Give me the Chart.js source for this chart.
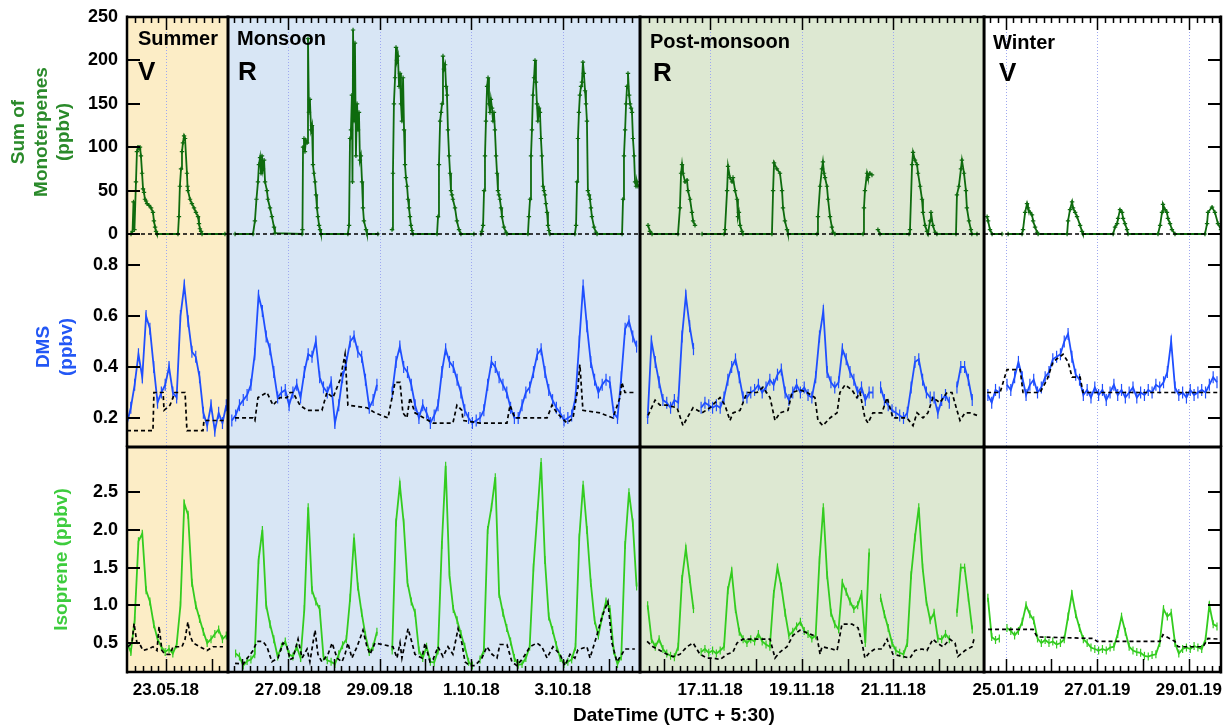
<!DOCTYPE html>
<html><head><meta charset="utf-8">
<script src="https://cdn.jsdelivr.net/npm/chart.js@4.4.1/dist/chart.umd.min.js"></script>
<style>
html,body{margin:0;padding:0;background:#fff;}
#wrap{position:relative;width:1223px;height:727px;overflow:hidden;}
#wrap canvas{position:absolute;left:0;top:0;}
</style></head><body>
<div id="wrap">
<canvas id="cMono" width="1223" height="727"></canvas>
<canvas id="cDms" width="1223" height="727"></canvas>
<canvas id="cIso" width="1223" height="727"></canvas>
</div>
<script>
// ---------- categories / axis data ----------
const SEASONS = ['Summer','Monsoon','Post-monsoon','Winter'];
const SEASON_MARKS = ['V','R','R','V'];
const SEASON_HOURS = [52.9, 215.8, 180.2, 124.1];          // length of each campaign window (h)
const SEASON_COLORS = ['#fcedc6','#d8e6f5','#dde8d2','#ffffff'];
const DATE_LABELS = ['23.05.18','27.09.18','29.09.18','1.10.18','3.10.18','17.11.18','19.11.18','21.11.18','25.01.19','27.01.19','29.01.19'];
const DATE_SEASON = [0,1,1,1,1,2,2,2,3,3,3];
const DATE_HOURS  = [20.4,31.4,79.4,127.4,175.4,36.7,84.7,132.7,11.3,59.3,107.3]; // hours since window start
const MONO_TICKS = [0,50,100,150,200,250];
const DMS_TICKS  = [0.2,0.4,0.6,0.8];
const ISO_TICKS  = [0.5,1.0,1.5,2.0,2.5];
const STEP_H = 2;   // sampling step of the regularly sampled series (h)

// ---------- Sum of monoterpenes (ppbv): [hour, value] ----------
const monoSummer = [[0,0],[2.1,0],[2.9,3],[3.4,37],[3.9,5],[4.7,60],[5.2,95],[5.8,100],[6.3,98],[6.8,100],[7.3,90],[7.9,70],[8.4,52],[8.9,48],[9.4,40],[10,38],[10.5,35],[11.5,33],[12.6,30],[13.6,25],[14.1,15],[14.7,8],[15.2,3],[15.7,0],[26.7,0],[27.2,20],[27.7,55],[28.3,75],[28.8,95],[29.3,105],[29.9,113],[30.4,110],[31.4,70],[31.7,55],[31.9,50],[33,40],[34,35],[35.1,30],[36.1,25],[37.2,20],[37.7,12],[38.2,6],[38.8,3],[39.3,0],[51.3,0]];
const monoMonsoon = [[3.7,0],[13.1,0],[14.1,15],[14.9,40],[15.7,60],[16.2,80],[16.8,88],[17.3,70],[17.8,90],[18.3,75],[18.9,85],[19.4,60],[20.4,50],[20.9,40],[22,30],[23,20],[24.1,8],[24.6,1],[38.8,0],[39,5],[39.3,100],[39.8,110],[40.3,95],[40.8,108],[41.4,105],[41.9,225],[42.4,140],[42.9,155],[43.5,120],[44,125],[44.5,80],[45,70],[45.6,60],[46.1,45],[46.6,30],[47.1,20],[47.7,10],[48.2,5],[48.7,0],[62.8,0],[63.4,10],[63.9,110],[64.4,120],[64.9,160],[65.2,60],[65.5,235],[66,130],[66.5,220],[67,90],[67.6,150],[68.1,120],[68.6,140],[69.1,85],[69.6,90],[70.2,60],[70.7,30],[71.2,15],[72.3,5],[72.8,0],[78.5,0],[80,null],[85.9,5],[86.4,70],[86.9,150],[87.5,180],[88,215],[88.5,200],[89,205],[89.6,170],[90.1,185],[90.6,150],[91.1,130],[91.7,180],[92.2,120],[92.7,80],[93.2,65],[93.8,55],[94.3,40],[94.8,30],[95.3,20],[95.8,10],[96.4,4],[96.9,0],[109.5,0],[110,20],[110.5,80],[111.1,130],[111.6,140],[112.1,150],[112.6,205],[113.1,190],[113.7,195],[114.2,170],[114.7,160],[115.2,120],[115.8,90],[116.3,70],[116.8,50],[117.3,45],[117.8,40],[118.9,30],[119.9,15],[121,5],[122,0],[128.8,0],[130,null],[132.5,0],[133,3],[133.6,10],[134.1,50],[134.6,90],[135.1,130],[135.7,170],[136.2,180],[136.7,150],[137.2,140],[137.7,155],[138.3,145],[138.8,130],[139.3,140],[139.8,120],[140.4,90],[140.9,70],[141.4,50],[141.9,45],[142.4,40],[143,30],[143.5,20],[144.5,8],[145.6,2],[146.1,0],[157.1,0],[157.6,20],[158.2,40],[158.7,90],[159.2,120],[159.7,160],[160.3,180],[160.8,200],[161.3,175],[161.8,150],[162.3,130],[162.9,145],[163.4,140],[163.9,110],[164.4,90],[165,55],[165.5,50],[166,45],[166.5,35],[167.1,25],[167.6,10],[168.1,4],[168.6,0],[181.7,0],[182.3,10],[182.8,60],[183.3,110],[183.8,140],[184.3,160],[184.9,170],[185.4,175],[185.9,198],[186.4,185],[187,165],[187.5,150],[188,130],[188.5,50],[189.1,45],[189.6,40],[190.1,30],[190.6,20],[191.7,8],[192.7,2],[193.3,0],[206.4,0],[206.9,40],[207.4,90],[208,120],[208.5,150],[209,170],[209.5,185],[210.1,160],[210.6,150],[211.1,145],[211.6,140],[212.1,110],[212.7,90],[213.2,60],[213.7,55],[214.2,60],[214.7,55]];
const monoPost = [[4.2,10],[5.2,3],[6.3,0],[19.9,0],[20.9,30],[21.5,70],[22,80],[22.5,70],[23.6,60],[24.6,62],[25.1,50],[26.2,40],[27.2,25],[27.8,15],[28.8,10],[29.3,null],[32.5,0],[44,0],[44.5,5],[45.6,50],[46.1,78],[47.1,65],[48.2,60],[48.7,65],[49.8,50],[50.8,40],[51.3,20],[51.8,25],[52.4,10],[53.4,3],[53.9,0],[69.1,0],[69.7,50],[70.2,82],[71.7,75],[73.3,70],[74.4,50],[74.9,30],[75.9,15],[77,5],[77.5,0],[92.7,0],[93.2,20],[94.3,55],[95.3,75],[95.8,83],[96.4,70],[96.9,65],[97.9,55],[98.5,40],[99.5,20],[100.5,8],[101.1,2],[102.1,0],[116.8,0],[117.3,30],[117.8,50],[118.9,70],[119.4,65],[120.4,70],[121.5,68],[122.5,null],[124.6,5],[125.7,0],[140.9,0],[141.4,5],[142.5,80],[143,94],[144,85],[145.1,80],[145.6,70],[146.7,55],[147.7,40],[148.2,25],[149.3,10],[150.3,3],[150.8,0],[151.9,15],[152.4,25],[153.4,10],[154.5,2],[155.5,0],[165.5,0],[166,45],[167,55],[168.1,75],[168.6,85],[169.7,70],[170.7,50],[171.2,30],[172.3,15],[173.3,5],[173.8,0],[176.5,0]];
const monoWinter = [[1.6,20],[2.1,15],[3.1,5],[4.2,0],[9.4,0],[9.9,null],[12.6,0],[19.9,0],[20.4,5],[21.5,25],[22.5,35],[23,30],[24.1,25],[25.1,22],[25.7,15],[26.7,8],[27.8,2],[28.3,0],[43.5,0],[44,15],[45,28],[46.1,37],[46.6,30],[47.7,25],[48.7,20],[50.3,10],[51.3,3],[51.8,0],[67.6,0],[68.6,8],[69.7,12],[70.2,18],[71.2,28],[72.3,25],[72.8,18],[73.8,12],[74.9,5],[75.4,0],[91.1,0],[92.2,10],[93.2,25],[93.7,34],[94.8,28],[95.8,25],[96.3,18],[97.4,12],[98.4,5],[100,0],[115.7,0],[116.8,12],[117.3,25],[119.4,31],[120.9,25],[122.5,12],[124.1,5]];
const monoBaseline = [0,0,0,0];

// ---------- DMS (ppbv), every STEP_H hours ----------
const dmsSummer = [0.18,0.24,0.33,0.45,0.36,0.6,0.55,0.4,0.26,0.3,0.33,0.4,0.3,0.28,0.6,0.72,0.58,0.46,0.44,0.36,0.22,0.17,0.25,0.15,0.22,0.18,0.25];
const dmsMonsoon = [null,0.19,0.21,0.25,0.27,0.29,0.33,0.45,0.68,0.62,0.52,0.47,0.38,0.28,0.3,0.31,0.25,0.3,0.33,0.28,0.38,0.45,0.44,0.5,0.36,0.32,0.3,0.34,0.18,0.25,0.36,0.42,0.5,0.52,0.46,0.44,0.35,0.24,0.27,0.33,null,null,null,0.3,0.42,0.48,0.4,0.38,0.33,0.25,0.2,0.25,0.22,0.18,0.21,0.25,0.38,0.47,0.42,0.4,0.35,0.3,0.23,0.2,0.18,0.19,0.2,0.23,0.33,0.42,0.4,0.36,0.33,0.3,0.24,0.2,0.2,0.25,0.3,0.32,0.38,0.45,0.47,0.38,0.31,0.27,0.24,0.22,0.19,0.2,0.21,0.28,0.5,0.72,0.56,0.42,0.35,0.3,0.33,0.35,0.34,0.22,0.2,0.36,0.55,0.58,0.52,0.48];
const dmsPost = [null,null,0.2,0.5,0.42,0.34,0.27,0.26,0.24,0.27,0.26,0.52,0.68,0.56,0.47,null,0.24,0.26,0.25,0.24,0.25,0.24,0.28,0.35,0.4,0.43,0.36,0.28,0.28,0.3,0.31,0.33,0.3,0.32,0.35,0.33,0.37,0.39,0.3,0.27,0.3,0.33,0.3,0.32,0.29,0.28,0.36,0.52,0.62,0.38,0.34,0.32,0.34,0.47,0.43,0.38,0.35,0.3,0.32,0.27,0.3,0.3,null,0.32,0.27,0.25,0.23,0.22,0.21,0.2,0.22,0.32,0.42,0.43,0.35,0.3,0.28,0.28,0.22,0.27,0.29,0.26,null,0.32,0.4,0.4,0.35,0.27,null,null,null];
const dmsWinter = [null,0.29,0.26,0.31,0.3,null,0.33,0.31,0.36,0.42,0.36,0.29,0.33,0.35,0.3,0.32,0.36,0.38,0.43,0.44,0.45,0.5,0.53,0.44,0.37,0.35,0.29,0.31,0.28,0.32,0.29,0.31,0.27,0.3,0.33,0.29,0.31,0.28,0.3,0.32,0.28,0.3,0.29,0.31,0.3,0.33,0.32,0.34,0.38,0.5,0.32,0.29,0.3,0.28,0.31,0.29,0.3,0.31,0.3,0.33,0.36,0.34];
// DMS background (dashed): [hour, value]
const dmsBgSummer = [[0,0.15],[13.6,0.15],[14.1,0.3],[18.9,0.3],[19.4,0.23],[22.5,0.25],[24.1,0.28],[25.1,0.3],[30.4,0.3],[31.4,0.15],[39.8,0.15],[40.3,0.19],[51.3,0.19]];
const dmsBgMonsoon = [[3.7,0.2],[13.1,0.2],[14.1,0.19],[15.7,0.28],[20.4,0.3],[23.6,0.25],[27.2,0.28],[30.9,0.28],[32.5,0.3],[34,0.3],[37.7,0.25],[41.4,0.23],[49.2,0.23],[51.8,0.3],[55,0.28],[58.7,0.35],[61.3,0.45],[62.8,0.25],[72.8,0.24],[77,0.22],[83.8,0.2],[87.5,0.34],[90.1,0.34],[91.6,0.22],[93.7,0.2],[95.3,0.28],[97.9,0.22],[107.4,0.18],[117.8,0.18],[119.9,0.25],[122.5,0.23],[123.1,0.19],[132,0.18],[146.1,0.18],[147.7,0.25],[150.3,0.2],[167.1,0.2],[169.7,0.25],[172.3,0.22],[177.5,0.18],[180.7,0.2],[183.3,0.32],[184.3,0.41],[185.9,0.23],[194.8,0.22],[201.6,0.2],[205.3,0.28],[206.3,0.34],[207.9,0.3],[213.7,0.3]];
const dmsBgPost = [[4.2,0.21],[7.9,0.27],[10.5,0.25],[14.1,0.25],[19.4,0.24],[22.5,0.17],[26.2,0.22],[27.8,0.24],[32.5,0.22],[36.7,0.24],[41.9,0.28],[44.5,0.25],[47.1,0.19],[48.7,0.22],[52.4,0.23],[56,0.3],[61.3,0.3],[64.4,0.32],[68.1,0.28],[70.7,0.19],[73.3,0.22],[77.5,0.23],[79.6,0.3],[83.8,0.31],[87.5,0.3],[91.6,0.28],[93.2,0.19],[95.8,0.17],[99.5,0.2],[103.2,0.22],[104.7,0.3],[107.4,0.33],[111,0.31],[113.6,0.28],[115.2,0.3],[117.8,0.2],[119.4,0.18],[122,0.22],[126.7,0.22],[129.4,0.28],[130.9,0.24],[132.5,0.2],[139.8,0.2],[143,0.17],[145.1,0.22],[148.2,0.2],[150.8,0.22],[153.4,0.28],[157.1,0.26],[160.8,0.3],[163.4,0.3],[166,0.23],[167.6,0.19],[170.2,0.22],[172.8,0.22],[176.5,0.21]];
const dmsBgWinter = [[1.6,0.3],[8.4,0.3],[12,0.39],[18.9,0.39],[20.4,0.3],[29.3,0.3],[33,0.35],[36.1,0.42],[41.4,0.45],[44,0.42],[46.1,0.36],[50.3,0.36],[51.8,0.3],[124.1,0.3]];

// ---------- Isoprene (ppbv), every STEP_H hours ----------
const isoSummer = [0.5,0.38,0.8,1.85,1.95,1.2,1.05,0.75,0.55,0.45,0.38,0.42,0.36,0.48,1.0,2.35,2.2,1.3,1.0,0.82,0.65,0.5,0.55,0.62,0.68,0.55,0.6];
const isoMonsoon = [null,null,0.36,0.32,0.2,0.26,0.28,0.35,1.6,2.0,1.0,0.75,0.55,0.32,0.45,0.52,0.35,0.32,0.45,0.3,0.95,2.3,1.2,1.05,0.95,0.32,0.27,0.25,0.22,0.35,0.47,0.55,1.1,1.9,1.25,0.9,0.6,0.38,0.45,0.65,null,null,null,0.4,2.1,2.6,2.1,1.3,1.05,0.9,0.4,0.3,0.45,0.25,0.24,0.4,1.8,2.85,1.4,0.95,0.8,0.62,0.45,0.25,0.2,null,0.28,0.4,2.0,2.3,2.7,1.15,0.9,0.7,0.52,0.3,0.21,0.22,0.3,0.45,1.5,2.2,2.9,1.6,0.85,0.67,0.47,0.3,0.22,0.25,0.28,0.45,1.9,2.6,2.0,1.3,0.8,0.6,0.85,1.05,0.95,0.4,0.22,0.32,1.8,2.5,2.1,1.25];
const isoPost = [null,null,1.0,0.55,0.45,0.55,0.42,0.36,0.33,0.31,0.45,1.35,1.75,1.35,0.95,null,0.38,0.42,0.37,0.4,0.36,0.4,0.45,1.2,1.45,0.95,0.65,0.55,0.5,0.55,0.52,0.62,0.52,0.48,0.45,1.15,1.5,1.25,0.9,0.6,0.65,0.72,0.78,0.66,0.62,0.56,0.6,1.6,2.3,1.4,0.9,0.75,0.68,1.3,1.18,1.05,0.95,1.0,1.15,0.5,1.7,null,null,1.1,0.88,0.7,0.5,0.4,0.37,0.35,0.5,1.4,1.9,2.3,1.5,1.05,0.8,0.9,0.56,0.55,0.62,0.55,null,0.9,1.5,1.5,1.1,0.68,null,null,null];
const isoWinter = [null,1.1,0.58,0.54,0.56,null,0.7,0.66,0.6,0.66,0.78,1.0,0.88,0.8,0.56,0.5,0.54,0.5,0.52,0.48,0.5,0.55,0.85,1.15,0.88,0.7,0.55,0.5,0.44,0.42,0.4,0.42,0.4,0.44,0.45,0.62,0.85,0.65,0.45,0.4,0.38,0.37,0.33,0.32,0.34,0.35,0.5,0.95,0.85,0.9,0.5,0.36,0.42,0.44,0.42,0.46,0.44,0.42,0.55,1.0,0.75,0.72];
// Isoprene background (dashed): [hour, value]
const isoBgSummer = [[0.5,0.45],[2.6,0.5],[3.7,0.76],[5.2,0.5],[6.8,0.48],[8.4,0.4],[11,0.42],[13.6,0.45],[15.7,0.4],[16.8,0.72],[18.3,0.4],[19.9,0.35],[22.5,0.35],[24.1,0.45],[28.8,0.45],[30.4,0.55],[31.9,0.78],[33,0.6],[34.6,0.5],[38.2,0.45],[41.9,0.4],[45,0.45],[50.3,0.45]];
const isoBgMonsoon = [[3.7,0.23],[7.9,0.22],[13.1,0.4],[15.2,0.52],[18.3,0.52],[20.4,0.45],[23,0.25],[26.2,0.3],[28.8,0.5],[30.9,0.45],[32.5,0.28],[34,0.3],[36.7,0.55],[38.8,0.3],[41.4,0.42],[42.9,0.25],[45.6,0.67],[47.1,0.35],[49.2,0.25],[52.4,0.35],[54.5,0.5],[57.1,0.3],[59.7,0.25],[61.3,0.35],[62.8,0.5],[64.9,0.3],[67.6,0.45],[70.7,0.67],[72.8,0.45],[74.4,0.35],[77,0.5],[86.4,0.45],[88.5,0.3],[90.1,0.5],[91.1,0.3],[94.3,0.69],[96.4,0.5],[97.9,0.35],[101.6,0.3],[103.2,0.5],[105.8,0.25],[107.4,0.28],[110,0.45],[112.6,0.32],[115.2,0.45],[117.8,0.35],[120.5,0.69],[122.5,0.5],[124.1,0.25],[126.7,0.2],[129.4,0.2],[133,0.3],[135.6,0.45],[138.3,0.35],[140.9,0.3],[142.4,0.48],[146.1,0.48],[148.7,0.25],[151.3,0.2],[154.5,0.3],[158.2,0.45],[161.8,0.5],[164.4,0.45],[167.1,0.3],[170.2,0.45],[173.9,0.35],[176.5,0.2],[179.1,0.35],[181.7,0.3],[183.3,0.41],[188,0.45],[189.6,0.3],[193.2,0.6],[195.9,0.85],[199,1.05],[201.1,0.5],[203.7,0.25],[206.3,0.35],[207.9,0.42],[213.1,0.42]];
const isoBgPost = [[3.7,0.52],[6.8,0.45],[10.5,0.4],[14.1,0.35],[17.3,0.32],[20.9,0.35],[24.6,0.45],[27.8,0.5],[31.4,0.35],[35.1,0.3],[38.2,0.3],[41.9,0.28],[45.6,0.35],[48.7,0.38],[50.8,0.5],[53.9,0.55],[62.8,0.55],[68.1,0.55],[70.7,0.3],[73.3,0.38],[77,0.45],[80.1,0.6],[83.8,0.67],[89,0.62],[92.7,0.58],[94.3,0.35],[95.3,0.45],[100.5,0.42],[103.2,0.4],[105.8,0.75],[111,0.75],[114.2,0.7],[116.3,0.5],[117.8,0.3],[120.5,0.38],[123.1,0.42],[126.7,0.42],[129.4,0.55],[130.9,0.45],[132.5,0.35],[137.7,0.32],[141.4,0.3],[144,0.4],[147.7,0.42],[150.3,0.4],[153.4,0.55],[155.5,0.5],[158.7,0.45],[162.3,0.55],[165,0.5],[166.5,0.32],[170.2,0.4],[173.9,0.45],[174.9,0.55]];
const isoBgWinter = [[2.1,0.68],[12,0.68],[25.7,0.68],[27.8,0.58],[57.1,0.56],[59.2,0.52],[92.2,0.52],[93.7,0.61],[100,0.52],[101.6,0.45],[114.7,0.45],[117.3,0.56],[124.1,0.55]];

// ---------- build chart data ----------
const segStart = [];
(function(){ let a = 0; for (const h of SEASON_HOURS) { segStart.push(a); a += h; } })();
const TOTAL_H = segStart[3] + SEASON_HOURS[3];
function fromPairs(segs) {
  const pts = [];
  segs.forEach((arr, s) => {
    arr.forEach(([h, v]) => pts.push({x: segStart[s] + h, y: v}));
    pts.push({x: segStart[s] + SEASON_HOURS[s], y: null});
  });
  return pts;
}
function fromSteps(segs) {
  const pts = [];
  segs.forEach((arr, s) => {
    arr.forEach((v, i) => pts.push({x: segStart[s] + i * STEP_H, y: v}));
    pts.push({x: segStart[s] + SEASON_HOURS[s], y: null});
  });
  return pts;
}
function baselinePts(vals) {
  const pts = [];
  vals.forEach((v, s) => { pts.push({x: segStart[s], y: v}); pts.push({x: segStart[s] + SEASON_HOURS[s], y: v}); pts.push({x: segStart[s] + SEASON_HOURS[s], y: null}); });
  return pts;
}

const FONT = '"Liberation Sans", Arial, Helvetica, sans-serif';
const dateAbs = DATE_HOURS.map((h, i) => segStart[DATE_SEASON[i]] + h);
const noPad = s => { s.paddingLeft = 0; s.paddingRight = 0; s.paddingTop = 0; s.paddingBottom = 0; };

// ---------- decoration plugin ----------
const deco = {
  id: 'deco',
  beforeDatasetsDraw(chart, _a, o) {
    const {ctx, chartArea: a, scales: {x}} = chart;
    ctx.save();
    for (let s = 0; s < 4; s++) {
      const x0 = x.getPixelForValue(segStart[s]), x1 = x.getPixelForValue(segStart[s] + SEASON_HOURS[s]);
      ctx.fillStyle = SEASON_COLORS[s];
      ctx.fillRect(x0, a.top, x1 - x0, a.bottom - a.top);
    }
    ctx.strokeStyle = '#9ea8f0'; ctx.lineWidth = 1; ctx.setLineDash([1, 2]);
    dateAbs.forEach(v => {
      const px = Math.round(x.getPixelForValue(v)) + 0.5;
      ctx.beginPath(); ctx.moveTo(px, a.top); ctx.lineTo(px, a.bottom); ctx.stroke();
    });
    ctx.restore();
  },
  afterDraw(chart, _a, o) {
    const {ctx, chartArea: a, scales: {x, y}} = chart;
    const line = (x1, y1, x2, y2) => { ctx.beginPath(); ctx.moveTo(x1, y1); ctx.lineTo(x2, y2); ctx.stroke(); };
    ctx.save();
    ctx.strokeStyle = '#000'; ctx.setLineDash([]);
    ctx.lineWidth = 2;
    o.yTicks.forEach(v => {
      const py = Math.round(y.getPixelForValue(v));
      line(a.left, py, a.left + 13, py);
      line(a.right - 13, py, a.right, py);
    });
    const drawX = (edge, dir, longLabelOnly) => {
      ctx.lineWidth = 1.5;
      for (let s = 0; s < 4; s++) {
        const first = DATE_HOURS[DATE_SEASON.indexOf(s)];
        const m0 = first % 24;
        const labeled = DATE_HOURS.filter((h, i) => DATE_SEASON[i] === s);
        for (let k = -10; k < 80; k++) {
          const h = m0 + 4 * k;
          if (h < 0.8 || h > SEASON_HOURS[s] - 0.8) continue;
          const isDay = ((k % 6) + 6) % 6 === 0;
          const isLab = labeled.some(l => Math.abs(l - h) < 0.01);
          let len = 6;
          if (longLabelOnly ? isLab : isDay) len = 13;
          const px = Math.round(x.getPixelForValue(segStart[s] + h)) + 0.5;
          line(px, edge, px, edge + dir * len);
        }
      }
    };
    if (o.topTicks) drawX(a.top, 1, true);
    if (o.bottomTicks) drawX(a.bottom, -1, false);
    const ext = (o.top || o.sepTop) ? 1.5 : 0, extB = o.bottom ? 1.5 : 0;
    ctx.lineWidth = 3;
    for (let s = 1; s < 4; s++) {
      const px = x.getPixelForValue(segStart[s]);
      line(px, a.top - ext, px, a.bottom + extB);
    }
    ctx.lineWidth = 2.5;
    line(a.left, a.top - ext, a.left, a.bottom + extB);
    line(a.right, a.top - ext, a.right, a.bottom + extB);
    if (o.top) line(a.left, a.top, a.right, a.top);
    if (o.sepTop) { ctx.lineWidth = 3; line(a.left, a.top, a.right, a.top); }
    if (o.bottom) { ctx.lineWidth = 2.5; line(a.left, a.bottom, a.right, a.bottom); }
    if (o.seasons) {
      ctx.fillStyle = '#000'; ctx.textAlign = 'left'; ctx.textBaseline = 'alphabetic';
      const nameDx = [11, 9, 10, 9], nameY = [45, 45, 48, 49];
      const markDx = [11, 10, 13, 15], markY = [80, 80, 81, 81];
      for (let s = 0; s < 4; s++) {
        const x0 = x.getPixelForValue(segStart[s]);
        ctx.font = 'bold 20px ' + FONT;
        ctx.fillText(SEASONS[s], x0 + nameDx[s], nameY[s]);
        ctx.font = 'bold 26px ' + FONT;
        ctx.fillText(SEASON_MARKS[s], x0 + markDx[s], markY[s]);
      }
    }
    ctx.restore();
  }
};

function xScale(showLabels) {
  const sc = {
    type: 'linear', min: 0, max: TOTAL_H, offset: false,
    display: showLabels,
    grid: {display: false, drawTicks: false},
    border: {display: false},
    afterBuildTicks: s => { s.ticks = dateAbs.map(v => ({value: v})); },
    afterFit: s => { noPad(s); if (showLabels) s.height = 55; },
    ticks: {
      autoSkip: false, maxRotation: 0, minRotation: 0, padding: 8, color: '#000',
      font: {family: FONT, size: 17, weight: 'bold'},
      callback: v => { const i = dateAbs.findIndex(d => Math.abs(d - v) < 1e-6); return i >= 0 ? DATE_LABELS[i] : ''; }
    }
  };
  if (showLabels) {
    sc.title = {display: true, text: 'DateTime (UTC + 5:30)', color: '#000', padding: {top: 0, bottom: 0},
      font: {family: FONT, size: 19, weight: 'bold', lineHeight: 1.2}};
  }
  return sc;
}
function yScale(min, max, ticks, fmt, title, titleColor, titlePad) {
  return {
    type: 'linear', min, max,
    grid: {display: false, drawTicks: false},
    border: {display: false},
    afterBuildTicks: s => { s.ticks = ticks.map(v => ({value: v})); },
    afterFit: s => { noPad(s); s.width = 127; },
    ticks: {padding: 9, color: '#000', font: {family: FONT, size: 18, weight: 'bold'}, callback: fmt},
    title: {display: true, text: title, color: titleColor, padding: {top: titlePad, bottom: 0},
      font: {family: FONT, size: 19, weight: 'bold', lineHeight: 1.18}}
  };
}
function lineDs(data, color, width, style, radius, rot) {
  return {data, borderColor: color, backgroundColor: color, borderWidth: width,
    pointStyle: style, pointRadius: radius, pointRotation: rot, pointBorderWidth: 1.2, pointBorderColor: color,
    tension: 0, spanGaps: false};
}
function dashDs(data) {
  return {data, borderColor: '#000', borderWidth: 1.7, borderDash: [4, 3], pointRadius: 0, tension: 0, spanGaps: false};
}
function makeChart(id, datasets, y, padTop, padBottom, showX, decoOpts) {
  return new Chart(document.getElementById(id), {
    type: 'line',
    data: {datasets},
    options: {
      responsive: false, animation: false, devicePixelRatio: 1, events: [],
      layout: {autoPadding: false, padding: {top: padTop, bottom: padBottom, left: 0, right: 2}},
      scales: {x: xScale(showX), y},
      plugins: {legend: {display: false}, tooltip: {enabled: false}, deco: decoOpts}
    },
    plugins: [deco]
  });
}

makeChart('cMono', [
  dashDs(baselinePts(monoBaseline)),
  lineDs(fromPairs([monoSummer, monoMonsoon, monoPost, monoWinter]), '#0e6b0e', 1.8, 'cross', 2.2, 0)
], yScale(-15, 250, MONO_TICKS, v => String(v), ['Sum of', 'Monoterpenes', '(ppbv)'], '#2a8a2a', 8),
  17, 480, false, {yTicks: MONO_TICKS, top: true, topTicks: true, seasons: true});

makeChart('cDms', [
  dashDs(fromPairs([dmsBgSummer, dmsBgMonsoon, dmsBgPost, dmsBgWinter])),
  lineDs(fromSteps([dmsSummer, dmsMonsoon, dmsPost, dmsWinter]), '#1f4fff', 1.8, 'line', 6, 90)
], yScale(0.086, 0.871, DMS_TICKS, v => v.toFixed(1), ['DMS', '(ppbv)'], '#2357f5', 33),
  247, 280, false, {yTicks: DMS_TICKS});

makeChart('cIso', [
  dashDs(fromPairs([isoBgSummer, isoBgMonsoon, isoBgPost, isoBgWinter])),
  lineDs(fromSteps([isoSummer, isoMonsoon, isoPost, isoWinter]), '#33cc1f', 1.8, 'line', 4, 90)
], yScale(0.115, 3.1, ISO_TICKS, v => v.toFixed(1), 'Isoprene (ppbv)', '#3dcc3d', 51),
  447, 0, true, {yTicks: ISO_TICKS, bottom: true, bottomTicks: true, sepTop: true});
</script>
</body></html>
